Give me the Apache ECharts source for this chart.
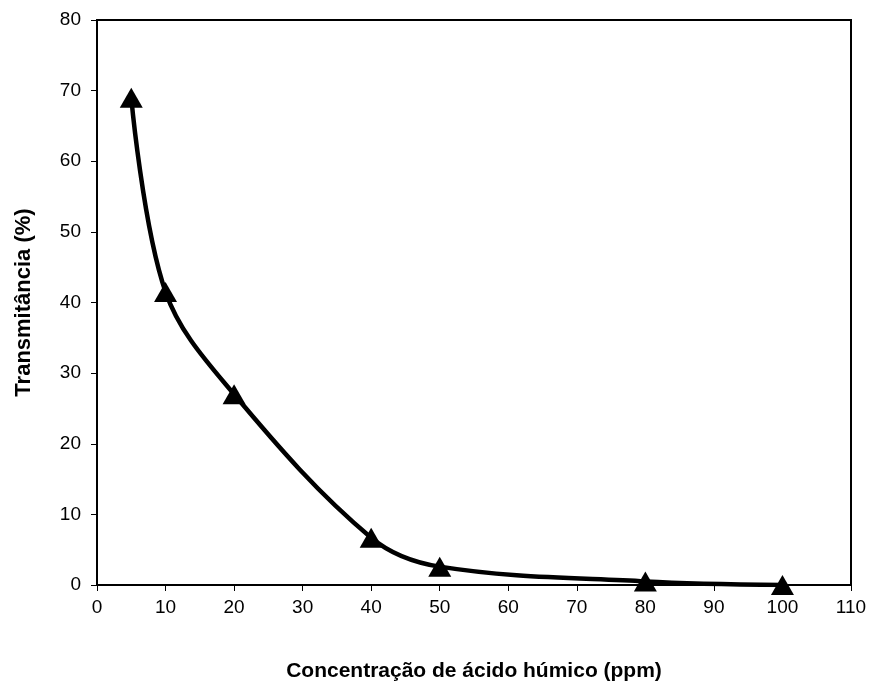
<!DOCTYPE html>
<html>
<head>
<meta charset="utf-8">
<script src="https://cdn.jsdelivr.net/npm/echarts@6/dist/echarts.min.js"></script>
<style>
  html, body { margin: 0; padding: 0; background: #fff; }
  #chart { width: 874px; height: 688px; }
</style>
</head>
<body>
<div id="chart"></div>
<script>
// concentração (ppm) x transmitância (%)
const concentracao = [5, 10, 20, 40, 50, 80, 100]
const transmitancia = [69, 41.5, 27, 6.7, 2.6, 0.5, 0]

const xTicks = [0, 10, 20, 30, 40, 50, 60, 70, 80, 90, 100, 110]
const yTicks = [0, 10, 20, 30, 40, 50, 60, 70, 80]

const fontFamily = '"Liberation Sans", Arial, sans-serif'

let chart = echarts.init(document.getElementById('chart'))

let pontos = []
for (var i = 0; i < concentracao.length; i++) {
  pontos.push([concentracao[i], transmitancia[i]])
}

let eixoComum = {
  axisLine: { show: true, onZero: false, lineStyle: { color: '#000', width: 2 } },
  axisTick: { show: true, inside: false, length: 6, lineStyle: { color: '#000', width: 1 } },
  axisLabel: { color: '#000', fontSize: 19, fontFamily: fontFamily },
  splitLine: { show: false }
}

let option = {
  animation: false,
  backgroundColor: '#fff',
  grid: {
    left: 97, right: 23, top: 20, bottom: 103,
    outerBoundsMode: 'none',
    show: true, borderColor: '#000', borderWidth: 2
  },
  xAxis: Object.assign({}, eixoComum, {
    type: 'value',
    min: xTicks[0],
    max: xTicks[xTicks.length - 1],
    interval: 10,
    axisLabel: Object.assign({}, eixoComum.axisLabel, { margin: 13 }),
    name: 'Concentração de ácido húmico (ppm)',
    nameLocation: 'middle',
    nameGap: 76,
    nameTextStyle: { color: '#000', fontSize: 21, fontWeight: 'bold', fontFamily: fontFamily }
  }),
  yAxis: Object.assign({}, eixoComum, {
    type: 'value',
    min: yTicks[0],
    max: yTicks[yTicks.length - 1],
    interval: 10,
    axisLabel: Object.assign({}, eixoComum.axisLabel, { margin: 16 }),
    name: 'Transmitância (%)',
    nameLocation: 'middle',
    nameGap: 62,
    nameTextStyle: { color: '#000', fontSize: 22, fontWeight: 'bold', fontFamily: fontFamily }
  }),
  series: [
    {
      type: 'line',
      data: pontos,
      smooth: 0.35,
      symbol: 'triangle',
      symbolSize: [23, 20],
      lineStyle: { color: '#000', width: 4.5 },
      itemStyle: { color: '#000' }
    }
  ]
}

chart.setOption(option)
</script>
</body>
</html>
